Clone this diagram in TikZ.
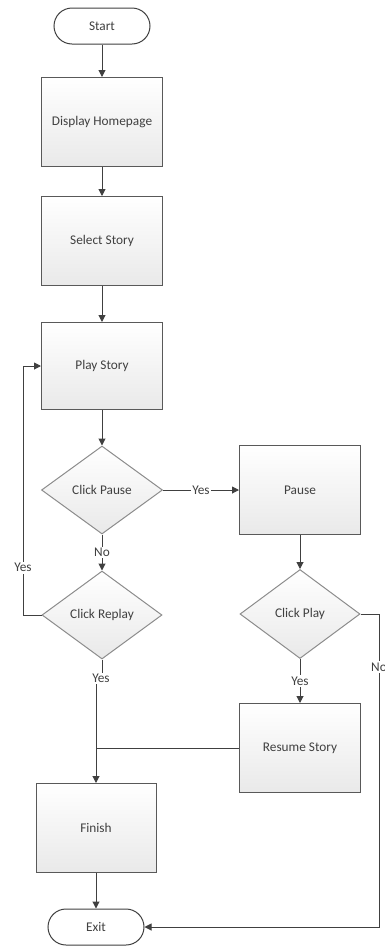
\documentclass[tikz,border=0pt]{standalone}
\usepackage{fontspec}
\setmainfont{Carlito}
\usetikzlibrary{arrows.meta,shapes.geometric}
\definecolor{ink}{HTML}{404040}
\definecolor{boxline}{HTML}{595959}
\definecolor{dialine}{HTML}{8C8C8C}
\definecolor{shadelo}{HTML}{E9E9E9}
\tikzset{
  base/.style={font=\fontsize{13.3}{16}\selectfont, text=ink, inner sep=0pt},
  procbox/.style={base, rectangle, draw=boxline, line width=1pt,
    top color=white, bottom color=shadelo, minimum width=121pt, minimum height=89pt},
  decision/.style={base, diamond, draw=dialine, line width=1pt,
    top color=white, bottom color=shadelo, minimum width=121pt, minimum height=88pt},
  terminal/.style={base, rectangle, rounded corners=18pt, draw=ink, line width=1pt,
    fill=white, minimum width=96pt, minimum height=36pt},
  flow/.style={draw=ink, line width=1pt},
  arr/.style={flow, -{Triangle[length=7pt,width=7pt]}},
  lbl/.style={base, fill=white, inner sep=1.5pt}
}
\begin{document}
\begin{tikzpicture}[x=1pt,y=-1pt]
\useasboundingbox (0,0) rectangle (385,946);

% main column
\node[terminal] (start)   at (102,26)  {Start};
\node[procbox]  (disp)    at (102,122) {Display Homepage};
\node[procbox]  (sel)     at (102,241) {Select Story};
\node[procbox, minimum height=87pt] (play) at (102,366) {Play Story};
\node[decision] (cpause)  at (102,490) {Click Pause};
\node[decision, minimum width=120pt] (creplay) at (102,615) {Click Replay};
\node[procbox, minimum width=120pt]  (finish)  at (96,828)  {Finish};
\node[terminal] (exit)    at (96,927)  {Exit};

% right column
\node[procbox]  (pause)   at (300,490) {Pause};
\node[decision, minimum width=120pt, minimum height=89pt] (cplay) at (300,614) {Click Play};
\node[procbox]  (resume)  at (300,748) {Resume Story};

\coordinate (loopx) at (23,0);
\coordinate (rightx) at (379,0);

% straight flow
\draw[arr] (start) -- (disp);
\draw[arr] (disp) -- (sel);
\draw[arr] (sel) -- (play);
\draw[arr] (play) -- (cpause);
\draw[arr] (cpause.east) -- node[lbl] {Yes} (pause.west);
\draw[arr] (cpause.south) -- node[lbl] {No} (creplay.north);
\draw[arr] (pause) -- (cplay);
\draw[arr] (cplay.south) -- node[lbl] {Yes} (resume.north);
\draw[arr] (finish) -- (exit);

% replay loop back to Play Story
\draw[arr] (creplay.west) -- (creplay.west -| loopx)
  -- node[lbl, pos=0.19] {Yes} (play.west -| loopx) -- (play.west);

% replay finished: on to Finish
\draw[arr] (creplay.south) -- ++(0,19) coordinate (jog) -| (finish.north);
\node[lbl] (replayyes) at ([xshift=-1pt]jog) {Yes};

% resumed story merges into the Finish line
\draw[flow] (resume.west) -- (resume.west -| finish.north);

% no play: straight to Exit
\draw[arr] (cplay.east) -- (cplay.east -| rightx)
  -- node[lbl, pos=0.17] {No} (exit.east -| rightx) -- (exit.east);
\end{tikzpicture}
\end{document}
